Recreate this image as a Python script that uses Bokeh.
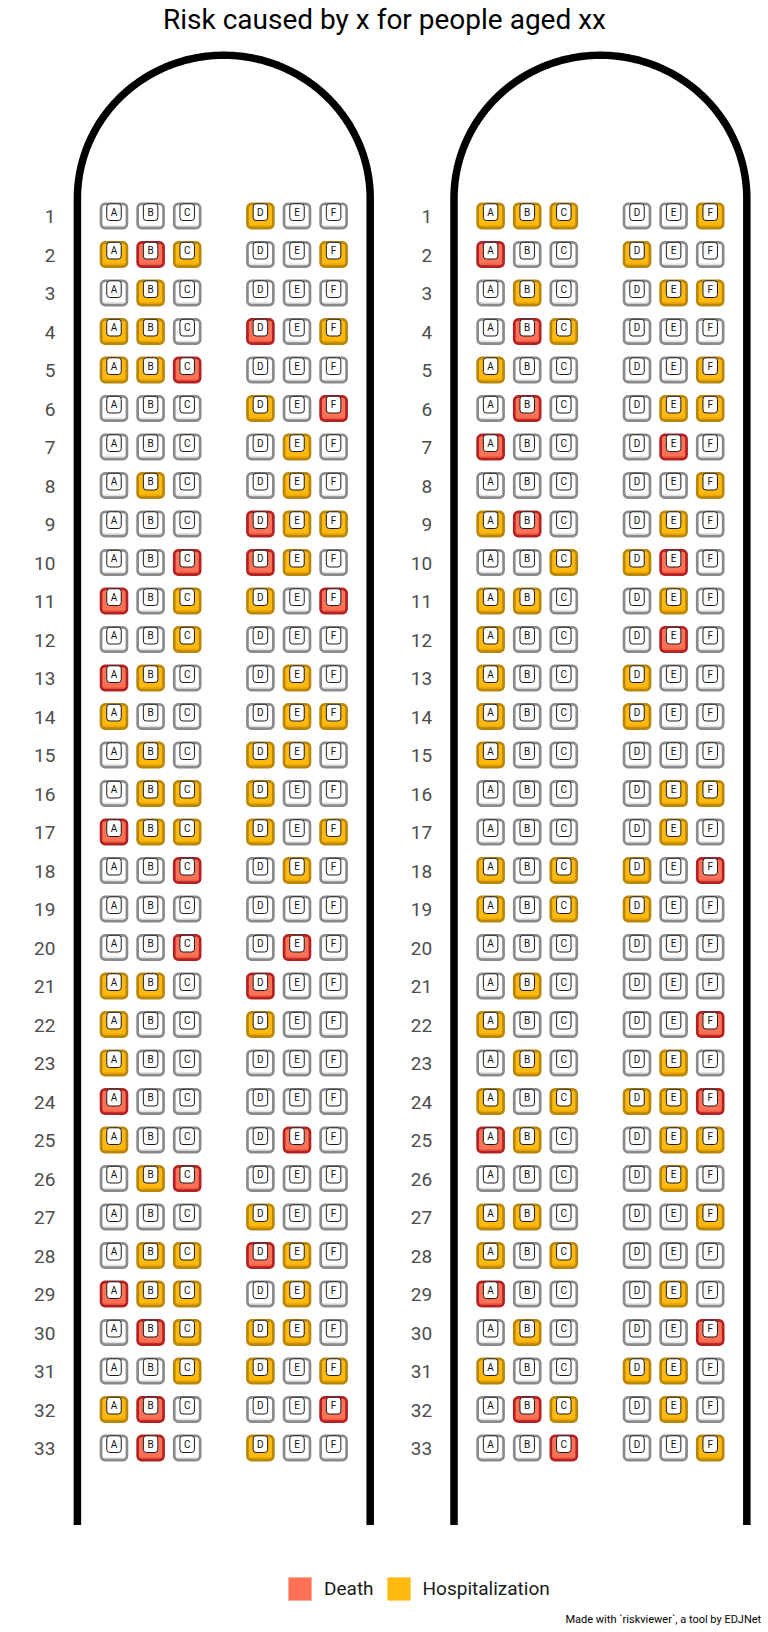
import numpy as np
from bokeh.plotting import figure
from bokeh.models import Range1d, Label, Legend, LegendItem, ColumnDataSource
from bokeh.core.properties import value
from bokeh.embed import file_html
from bokeh.resources import INLINE

# ---------------- data ----------------
TITLE = "Risk caused by x for people aged xx"
CAPTION = "Made with `riskviewer`, a tool by EDJNet"
seat_letters = ["A", "B", "C", "D", "E", "F"]
seat_columns = [1, 2, 3, 5, 6, 7]          # column 4 is the aisle
row_numbers = list(range(1, 34))
categories = ["Death", "Hospitalization"]

# one string per row, seats A-F: '.' = nothing, 'H' = hospitalization, 'D' = death
left_plane = [
    "...H..", "HDH..H", ".H....", "HH.D.H", "HHD...",
    "...H.D", "....H.", ".H..H.", "...DHH", "..DDH.",
    "D.HH.D", "..H...", "DH..H.", "H...HH", ".H.HH.",
    ".HHH..", "DHHH.H", "..D.H.", "......", "..D.D.",
    "HH.D..", "H..H..", "H.....", "D.....", "H...D.",
    ".HD...", "...H..", ".HHDH.", "DHH.H.", ".DHHH.",
    "..HH.H", "HD...D", ".D.H..",
]
right_plane = [
    "HHH..H", "D..H..", ".H..HH", ".DH...", "H....H",
    ".D..HH", "D...D.", ".....H", "HD..H.", "..HHD.",
    "HH..H.", "H...D.", "H..H..", "H..H..", "H.....",
    "....HH", "....H.", "H.HH.D", "H.HH..", "......",
    ".H....", "H....D", ".H..H.", "H.HHHD", "DH..HH",
    "....H.", "HH...H", "H.H...", "D...H.", ".H...D",
    "H..HH.", ".DH.H.", "..D..H",
]
planes = [left_plane, right_plane]

# ---------------- style ----------------
W, H = 768, 1632
SEAT_PX, ROW_PX = 36.6, 38.5
PANEL_SHIFT = 10.29
FILL = {".": "#FFFFFF", "H": "#FFB90F", "D": "#FF7256"}
EDGE = {".": "#8A8A8A", "H": "#B8860B", "D": "#B22222"}
BAND = {".": "#E4E4E4", "H": "#F0A800", "D": "#F05E48"}
FONT = "Roboto"

p = figure(width=W, height=H, output_backend="svg", toolbar_location=None,
           x_axis_type=None, y_axis_type=None, min_border=0,
           x_range=Range1d(1 - 113.5 / SEAT_PX, 1 + (W - 113.5) / SEAT_PX),
           y_range=Range1d(1 + (H - 215.5) / ROW_PX, 1 - 215.5 / ROW_PX))
p.outline_line_color = None
p.grid.visible = False
p.background_fill_color = "white"

# ---------------- seats ----------------
xs, ys, st, let = [], [], [], []
for pi, plane in enumerate(planes):
    for r, row in zip(row_numbers, plane):
        for j, s in enumerate(row):
            xs.append(seat_columns[j] + pi * PANEL_SHIFT)
            ys.append(r)
            st.append(s)
            let.append(seat_letters[j])
xs = np.array(xs, float)
ys = np.array(ys, float)
hw, hh = 0.354, 0.313
src = ColumnDataSource(dict(
    x=xs, y=ys, ty=ys - 0.1, letter=let,
    l=xs - hw, r=xs + hw, t=ys - hh, b=ys + hh,
    bt=ys + hh - 0.08,
    hl=xs - 0.198, hr=xs + 0.198, ht=ys - 0.317, hb=ys + 0.117,
    fill=[FILL[s] for s in st], edge=[EDGE[s] for s in st], band=[BAND[s] for s in st],
))
p.quad(left="l", right="r", top="t", bottom="b", source=src,
       fill_color="fill", line_color=None, border_radius=4)
p.quad(left="l", right="r", top="bt", bottom="b", source=src,
       fill_color="band", line_color=None)
p.quad(left="l", right="r", top="t", bottom="b", source=src,
       fill_color=None, line_color="edge", line_width=2.7, border_radius=4)
p.quad(left="hl", right="hr", top="ht", bottom="hb", source=src,
       fill_color="white", line_color="#1A1A1A", line_width=1, border_radius=3)
p.text(x="x", y="ty", text="letter", source=src, text_align="center",
       text_baseline="middle", text_font=value(FONT), text_font_size="10px",
       text_color="#111111")

# ---------------- row labels ----------------
lx, ly, lt = [], [], []
for pi in range(len(planes)):
    for r in row_numbers:
        lx.append(pi * PANEL_SHIFT - 0.6)
        ly.append(r + 0.02)
        lt.append(str(r))
p.text(x=lx, y=ly, text=lt, text_align="right", text_baseline="middle",
       text_font=value(FONT), text_font_size="19px", text_color="#4D4D4D")

# ---------------- fuselage outline ----------------
cy, ry, y_end = 0.545, 3.72, 35.0
theta = np.linspace(np.pi, 0, 120)
for pi in range(len(planes)):
    cx = 4 + pi * PANEL_SHIFT
    ox = np.concatenate([[cx - 4, cx - 4], cx + 4 * np.cos(theta), [cx + 4, cx + 4]])
    oy = np.concatenate([[y_end, cy], cy - ry * np.sin(theta), [cy, y_end]])
    p.line(ox, oy, line_color="black", line_width=7.5, line_join="round", line_cap="butt")

# ---------------- legend ----------------
nan = [float("nan")]
r_death = p.quad(left=nan, right=nan, top=nan, bottom=nan, fill_color=FILL["D"], line_color=None)
r_hosp = p.quad(left=nan, right=nan, top=nan, bottom=nan, fill_color=FILL["H"], line_color=None)
legend = Legend(items=[LegendItem(label=categories[0], renderers=[r_death]),
                       LegendItem(label=categories[1], renderers=[r_hosp])],
                location=(285, 29), orientation="horizontal",
                glyph_width=29, glyph_height=29, label_height=29,
                label_standoff=10, spacing=10, padding=0, margin=0,
                border_line_color=None, background_fill_alpha=0,
                label_text_font=FONT, label_text_font_size="19px",
                label_text_color="#1A1A1A", label_text_baseline="middle")
p.add_layout(legend)

# ---------------- texts ----------------
p.add_layout(Label(x=384, y=H - 18.5, x_units="screen", y_units="screen", text=TITLE,
                   text_align="center", text_baseline="middle", text_font=FONT,
                   text_font_size="28px", text_color="black"))
p.add_layout(Label(x=760.7, y=13, x_units="screen", y_units="screen", text=CAPTION,
                   text_align="right", text_baseline="middle", text_font=FONT,
                   text_font_size="11px", text_color="black"))

open("out.html", "w").write(file_html(p, INLINE))
